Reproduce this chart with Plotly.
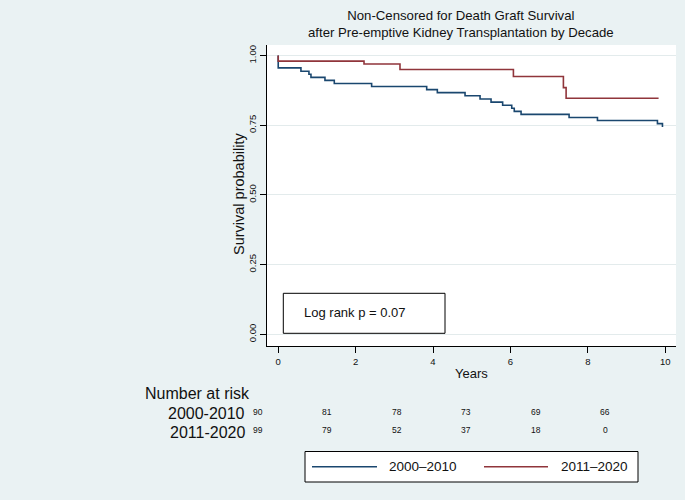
import plotly.graph_objects as go

# ---------------- data ----------------
blue_name = "2000\u20132010"
red_name = "2011\u20132020"
blue_t = [0, 0, 0.587, 0.794, 0.846, 1.208, 1.449, 2.414, 3.837, 4.112, 4.828, 5.216,
          5.50, 5.80, 6.035, 6.10, 6.276, 7.517, 8.25, 9.80, 9.93]
blue_s = [1.0, 0.956, 0.944, 0.933, 0.922, 0.911, 0.900, 0.889, 0.878, 0.867, 0.856, 0.844,
          0.833, 0.822, 0.811, 0.800, 0.789, 0.778, 0.767, 0.756, 0.744]
red_t = [0, 0, 2.217, 3.147, 6.078, 7.37, 7.44, 9.83]
red_s = [1.0, 0.980, 0.970, 0.950, 0.925, 0.885, 0.847, 0.847]

risk_times = [0, 2, 4, 6, 8, 10]
risk_groups = ["2000-2010", "2011-2020"]
risk_blue = [90, 81, 78, 73, 69, 66]
risk_red = [99, 79, 52, 37, 18, 0]
y_ticks = [0, 0.25, 0.5, 0.75, 1.0]
x_ticks = [0, 2, 4, 6, 8, 10]
logrank_text = "Log rank p = 0.07"

# ---------------- style ----------------
BLUE = "#1a476f"
RED = "#90353b"
BG = "#eaf2f3"
FONT = "Liberation Sans, Arial, sans-serif"
W, H = 685, 500
L, R, T, B = 267, 676, 45, 346  # plot area in pixels


def px(x):
    return (x - L) / (R - L)


def py(y):
    return (B - y) / (B - T)


fig = go.Figure()
fig.add_trace(go.Scatter(x=blue_t, y=blue_s, mode="lines", line=dict(color=BLUE, width=1.6, shape="hv"),
                         name=blue_name, showlegend=False))
fig.add_trace(go.Scatter(x=red_t, y=red_s, mode="lines", line=dict(color=RED, width=1.6, shape="hv"),
                         name=red_name, showlegend=False))

annotations = []
shapes = []

# title
annotations.append(dict(text="Non-Censored for Death Graft Survival<br>after Pre-emptive Kidney Transplantation by Decade",
                        x=px(460.5), y=py(23.5), xref="paper", yref="paper", showarrow=False,
                        xanchor="center", yanchor="middle", font=dict(size=13.2, color="#111")))
# axis titles
annotations.append(dict(text="Survival probability", x=px(238.3), y=py(193.7), xref="paper", yref="paper",
                        showarrow=False, textangle=-90, xanchor="center", yanchor="middle",
                        font=dict(size=14.5, color="#111")))
annotations.append(dict(text="Years", x=px(471.5), y=py(373.5), xref="paper", yref="paper",
                        showarrow=False, xanchor="center", yanchor="middle", font=dict(size=13, color="#111")))

# log-rank box
shapes.append(dict(type="rect", xref="paper", yref="paper", x0=px(283.3), x1=px(445), y0=py(333.3), y1=py(293.3),
                   line=dict(color="black", width=1), fillcolor="white"))
annotations.append(dict(text=logrank_text, x=px(302.3), y=py(312.5), xref="paper", yref="paper", showarrow=False,
                        xanchor="left", yanchor="middle", font=dict(size=13, color="#111")))

# number at risk table
annotations.append(dict(text="Number at risk", x=px(252), y=py(393.5), xref="paper", yref="paper",
                        showarrow=False, xanchor="right", yanchor="middle", font=dict(size=16, color="#111")))
row_y = [413.5, 432.5]
num_y = [412, 430]
for gi, (gname, vals) in enumerate(zip(risk_groups, [risk_blue, risk_red])):
    annotations.append(dict(text=gname, x=px(247), y=py(row_y[gi]), xref="paper", yref="paper",
                            showarrow=False, xanchor="right", yanchor="middle", font=dict(size=16, color="#111")))
    for t, v in zip(risk_times, vals):
        annotations.append(dict(text=str(v), x=px(258 + 34.7 * t), y=py(num_y[gi]), xref="paper", yref="paper",
                                showarrow=False, xanchor="center", yanchor="middle",
                                font=dict(size=8.5, color="#111")))

# manual legend
shapes.append(dict(type="rect", xref="paper", yref="paper", x0=px(305), x1=px(638), y0=py(482), y1=py(451.5),
                   line=dict(color="black", width=1), fillcolor="white"))
for (x0, x1, tx, col, name) in [(312, 377, 387, BLUE, blue_name), (484, 548, 559, RED, red_name)]:
    shapes.append(dict(type="line", xref="paper", yref="paper", x0=px(x0), x1=px(x1), y0=py(466.7), y1=py(466.7),
                       line=dict(color=col, width=1.6)))
    annotations.append(dict(text=name, x=px(tx), y=py(466.7), xref="paper", yref="paper", showarrow=False,
                            xanchor="left", yanchor="middle", font=dict(size=13.5, color="#111")))

fig.update_layout(
    width=W, height=H,
    margin=dict(l=L, r=W - R, t=T, b=H - B, pad=0),
    paper_bgcolor=BG, plot_bgcolor="white",
    font=dict(family=FONT, color="#111"),
    showlegend=False,
    annotations=annotations, shapes=shapes,
    xaxis=dict(range=[-0.29, 10.28], tickvals=x_ticks, ticks="outside", ticklen=6, tickcolor="black",
               showline=True, linecolor="black", linewidth=1, showgrid=False, zeroline=False,
               ticklabelstandoff=1, tickfont=dict(size=9.5), fixedrange=True),
    yaxis=dict(range=[-0.042, 1.038], tickvals=y_ticks, tickformat=".2f", ticks="outside", ticklen=6,
               tickcolor="black", tickangle=-90, showline=True, linecolor="black", linewidth=1,
               showgrid=True, gridcolor="#e3ebec", gridwidth=1, zeroline=False,
               tickfont=dict(size=9.5), fixedrange=True),
)

fig.write_html("out.html")
